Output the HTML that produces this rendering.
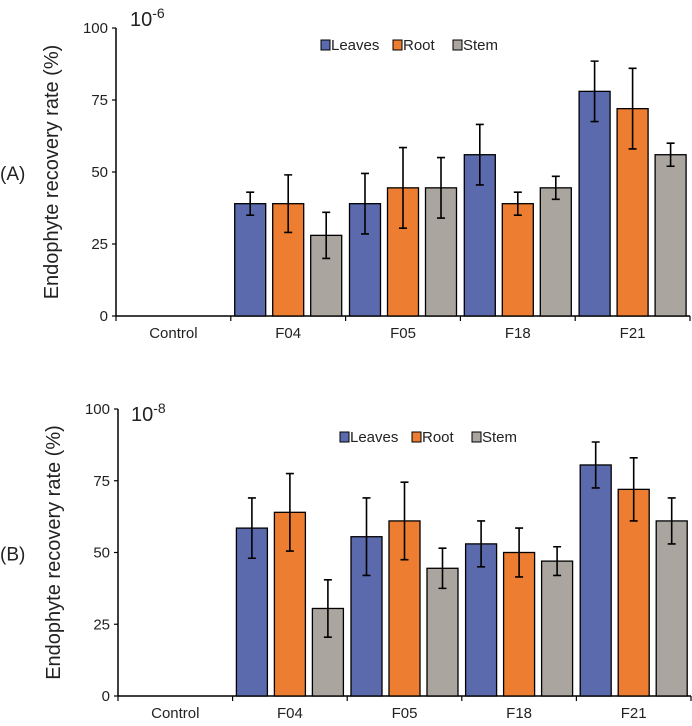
<!DOCTYPE html>
<html><head><meta charset="utf-8"><style>
body{margin:0;background:#fff}
svg{display:block;font-family:"Liberation Sans",sans-serif}
</style></head><body>
<svg id="c" width="692" height="726"></svg>
<script>
const categories=["Control","F04","F05","F18","F21"];
const seriesNames=["Leaves","Root","Stem"];
const yTicks=[0,25,50,75,100];
const aLeaves=[0,39,39,56,78], aLeavesErr=[0,4,10.5,10.5,10.5];
const aRoot=[0,39,44.5,39,72], aRootErr=[0,10,14,4,14];
const aStem=[0,28,44.5,44.5,56], aStemErr=[0,8,10.5,4,4];
const bLeaves=[0,58.5,55.5,53,80.5], bLeavesErr=[0,10.5,13.5,8,8];
const bRoot=[0,64,61,50,72], bRootErr=[0,13.5,13.5,8.5,11];
const bStem=[0,30.5,44.5,47,61], bStemErr=[0,10,7,5,8];
const colors=["#5b6aad","#ed7d31","#aba59f"];
const svg=document.getElementById('c');
const NS="http://www.w3.org/2000/svg";
function mk(t,a,p){const e=document.createElementNS(NS,t);for(const k in a)e.setAttribute(k,a[k]);(p||svg).appendChild(e);return e;}
function panel(id,x0,x1,y0,y100,vals,errs,label,exp,legY,legX){
  const g=mk('g',{});
  
  
  const ys=v=>y0-(y0-y100)*v/100;
  const cw=(x1-x0)/categories.length;
  const ya=mk('line',{x1:x0,y1:y100,x2:x0,y2:y0,stroke:'#000','stroke-width':1.5},g);
  
  const xa=mk('line',{x1:x0,y1:y0,x2:x1,y2:y0,stroke:'#000','stroke-width':1.5},g);
  
  yTicks.forEach(t=>{
    mk('line',{x1:x0-4,x2:x0,y1:ys(t),y2:ys(t),stroke:'#000','stroke-width':1.2},g);
    const tx=mk('text',{x:x0-8,y:ys(t)+5,'text-anchor':'end','font-size':15,fill:'#222'},g);
    tx.textContent=t;
    
  });
  for(let i=0;i<=categories.length;i++){
    mk('line',{x1:x0+i*cw,x2:x0+i*cw,y1:y0,y2:y0+5,stroke:'#000','stroke-width':1.2},g);
  }
  categories.forEach((c,i)=>{
    const tx=mk('text',{x:x0+(i+0.5)*cw,y:y0+22,'text-anchor':'middle','font-size':15,fill:'#222'},g);
    tx.textContent=c;
    
    vals.forEach((s,j)=>{
      const v=s[i];if(!v)return;
      const bw=31,gap=7,start=x0+i*cw+(cw-3*bw-2*gap)/2;
      const bx=start+j*(bw+gap);
      const r=mk('rect',{x:bx,y:ys(v),width:bw,height:y0-ys(v),fill:colors[j],stroke:'#000','stroke-width':1.3},g);
      
      
      const e=errs[j][i],cx=bx+bw/2;
      const eb=mk('path',{d:`M${cx},${ys(v+e)}V${ys(v-e)}M${cx-4},${ys(v+e)}H${cx+4}M${cx-4},${ys(v-e)}H${cx+4}`,stroke:'#000','stroke-width':1.6,fill:'none'},g);
      
    });
  });
  const yt=mk('text',{transform:`translate(${x0-58},${(y0+y100)/2}) rotate(-90)`,'text-anchor':'middle','font-size':20,fill:'#222'},g);
  yt.textContent='Endophyte recovery rate (%)';
  
  const pl=mk('text',{x:0,y:(y0+y100)/2+8,'font-size':19,fill:'#222'},g);
  pl.textContent=label;
  
  const ex=mk('text',{x:exp[0],y:exp[1],'font-size':20,fill:'#222'},g);
  ex.innerHTML='10<tspan dy="-8" font-size="14">-'+exp[2]+'</tspan>';
  
  let lx=legX;
  const widths=[62,50,46];
  seriesNames.forEach((n,j)=>{
    const lg=mk('g',{},g);
    
    mk('rect',{x:lx,y:legY-10,width:9,height:10,fill:colors[j],stroke:'#000','stroke-width':1},lg);
    const t=mk('text',{x:lx+10,y:legY,'font-size':15,fill:'#222'},lg);
    t.textContent=n;
    lx+=widths[j]+10;
  });
}
panel('chart-a',116,690,316,28,[aLeaves,aRoot,aStem],[aLeavesErr,aRootErr,aStemErr],'(A)',[130,26,6],50,321);
panel('chart-b',118,691,696,409,[bLeaves,bRoot,bStem],[bLeavesErr,bRootErr,bStemErr],'(B)',[131,421,8],442,340);
</script>
</body></html>
